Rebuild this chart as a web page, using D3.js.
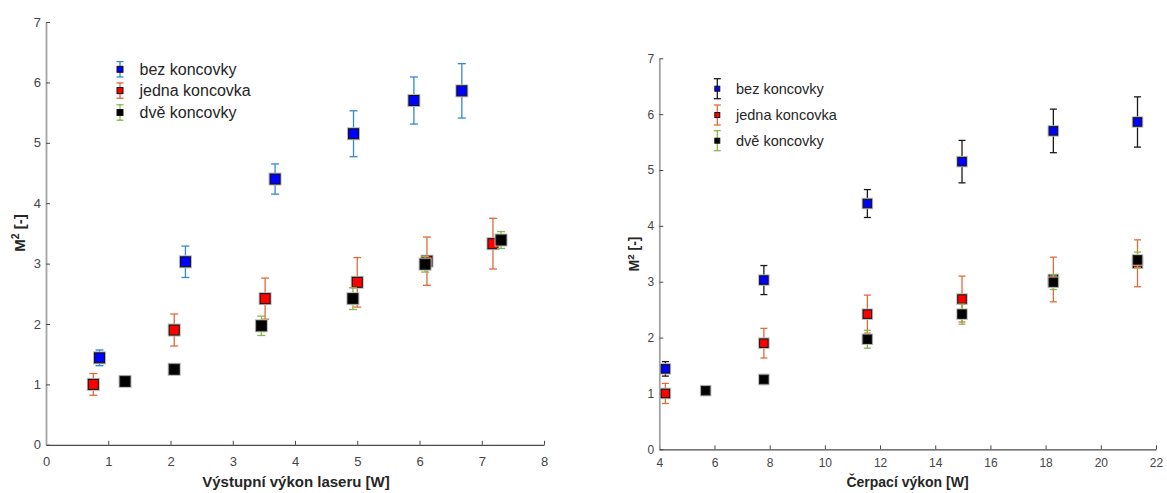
<!DOCTYPE html>
<html>
<head>
<meta charset="utf-8">
<script src="https://cdn.jsdelivr.net/npm/d3@7"></script>
<style>
  html, body { margin: 0; padding: 0; background: #fff; }
  svg { display: block; font-family: "Liberation Sans", Arial, Helvetica, sans-serif; }
</style>
</head>
<body>
<svg id="chart" width="1167" height="493"></svg>
<script>
// Series names
const seriesNames = ["bez koncovky", "jedna koncovka", "dvě koncovky"];

// Beam quality M² (shared by both panels)
const m2Bez   = [1.44, 3.03, 4.40, 5.15, 5.70, 5.86];
const m2Jedna = [1.00, 1.90, 2.42, 2.69, 3.04, 3.33];
const m2Dve   = [1.05, 1.25, 1.97, 2.42, 2.99, 3.39];

// Uncertainty of M²
const errBez   = [0.13, 0.26, 0.25, 0.38, 0.39, 0.45];
const errJedna = [0.18, 0.265, 0.34, 0.41, 0.40, 0.42];
const errDve   = [0.05, 0.09, 0.16, 0.18, 0.13, 0.14];

// Laser output power [W]
const outBez   = [0.86, 2.24, 3.68, 4.94, 5.91, 6.68];
const outJedna = [0.76, 2.06, 3.52, 5.00, 6.12, 7.18];
const outDve   = [1.27, 2.06, 3.46, 4.93, 6.09, 7.31];

// Pump power [W]
const pumpBez   = [4.22, 7.79, 11.54, 14.97, 18.28, 21.33];
const pumpJedna = [4.22, 7.79, 11.54, 14.97, 18.28, 21.33];
const pumpDve   = [5.68, 7.79, 11.54, 14.97, 18.28, 21.33];

// Axis ticks
const yTicks = [0, 1, 2, 3, 4, 5, 6, 7];
const xTicksOut = [0, 1, 2, 3, 4, 5, 6, 7, 8];
const xTicksPump = [4, 6, 8, 10, 12, 14, 16, 18, 20, 22];

const markerFill = ["#0000ff", "#ff0000", "#000000"];

const svg = d3.select("#chart");

function zipSeries(xs, ys, es) {
  return xs.map((x, i) => ({ x, y: ys[i], e: es[i] }));
}

function panel(cfg) {
  const g = svg.append("g");
  const x = d3.scaleLinear().domain(cfg.xDomain).range(cfg.xRange);
  const y = d3.scaleLinear().domain([0, 7]).range(cfg.yRange);

  // x axis
  const xAxis = g.append("g")
    .attr("transform", `translate(0,${cfg.yRange[0]})`)
    .call(d3.axisBottom(x).tickValues(cfg.xTicks).tickFormat(d3.format("d"))
      .tickSizeInner(-4).tickSizeOuter(0).tickPadding(cfg.xPad));
  xAxis.select(".domain").attr("stroke", "#4a4a4a").attr("stroke-width", 1.2);
  xAxis.selectAll(".tick line").attr("stroke", "#4a4a4a");
  xAxis.selectAll("text").attr("fill", "#454545").attr("font-size", cfg.tickFont)
    .attr("font-family", "Liberation Sans, Arial, sans-serif");

  // y axis
  const yAxis = g.append("g")
    .attr("transform", `translate(${cfg.xRange[0]},0)`)
    .call(d3.axisLeft(y).tickValues(yTicks).tickFormat(d3.format("d"))
      .tickSizeInner(-4).tickSizeOuter(0).tickPadding(5));
  yAxis.select(".domain").attr("stroke", "#a3a3a3").attr("stroke-width", 1.8);
  yAxis.selectAll(".tick line").attr("stroke", "#4a4a4a");
  yAxis.selectAll("text").attr("fill", "#454545").attr("font-size", cfg.tickFont)
    .attr("font-family", "Liberation Sans, Arial, sans-serif");

  // axis titles
  g.append("text")
    .attr("x", cfg.xLabelPos[0]).attr("y", cfg.xLabelPos[1])
    .attr("text-anchor", "middle").attr("dy", "0.35em")
    .attr("font-weight", "bold").attr("font-size", cfg.labelFont)
    .attr("fill", "#262626").text(cfg.xLabel);

  const yl = g.append("text")
    .attr("transform", `translate(${cfg.yLabelPos[0]},${cfg.yLabelPos[1]}) rotate(-90)`)
    .attr("text-anchor", "middle").attr("dy", "0.35em")
    .attr("font-weight", "bold").attr("font-size", cfg.labelFont)
    .attr("fill", "#262626");
  yl.append("tspan").text("M");
  yl.append("tspan").attr("baseline-shift", "super").attr("font-size", cfg.labelFont * 0.7).text("2");
  yl.append("tspan").text(" [-]");

  // data series: error bars, then marker
  const ms = cfg.markerSize;
  const cap = cfg.capWidth / 2;
  cfg.series.forEach((s, si) => {
    const sg = g.append("g");
    const pts = s.data;
    const eb = sg.selectAll("g.eb").data(pts).join("g").attr("class", "eb")
      .attr("stroke", cfg.errColors[si]).attr("stroke-width", 1.3);
    eb.append("line")
      .attr("x1", d => x(d.x)).attr("x2", d => x(d.x))
      .attr("y1", d => y(d.y + d.e)).attr("y2", d => y(d.y - d.e));
    eb.append("line")
      .attr("x1", d => x(d.x) - cap).attr("x2", d => x(d.x) + cap)
      .attr("y1", d => y(d.y + d.e)).attr("y2", d => y(d.y + d.e));
    eb.append("line")
      .attr("x1", d => x(d.x) - cap).attr("x2", d => x(d.x) + cap)
      .attr("y1", d => y(d.y - d.e)).attr("y2", d => y(d.y - d.e));
    // soft halo around each square
    sg.selectAll("rect.halo").data(pts).join("rect").attr("class", "halo")
      .attr("x", d => x(d.x) - ms / 2).attr("y", d => y(d.y) - ms / 2)
      .attr("width", ms).attr("height", ms)
      .attr("fill", "none").attr("stroke", "#b8b8b8").attr("stroke-width", 3);
    sg.selectAll("rect.mk").data(pts).join("rect").attr("class", "mk")
      .attr("x", d => x(d.x) - ms / 2).attr("y", d => y(d.y) - ms / 2)
      .attr("width", ms).attr("height", ms)
      .attr("fill", markerFill[si]).attr("stroke", "#111").attr("stroke-width", 1);
  });

  // legend
  const lg = g.append("g");
  seriesNames.forEach((name, i) => {
    const cy = cfg.legendY[i];
    const lx = cfg.legendX;
    const h = cfg.legendErr;
    const c = cfg.legendCap / 2;
    const e = lg.append("g").attr("stroke", cfg.errColors[i]).attr("stroke-width", 1.3);
    e.append("line").attr("x1", lx).attr("x2", lx).attr("y1", cy - h).attr("y2", cy + h);
    e.append("line").attr("x1", lx - c).attr("x2", lx + c).attr("y1", cy - h).attr("y2", cy - h);
    e.append("line").attr("x1", lx - c).attr("x2", lx + c).attr("y1", cy + h).attr("y2", cy + h);
    const lm = cfg.legendMarker;
    lg.append("rect").attr("x", lx - lm / 2).attr("y", cy - lm / 2)
      .attr("width", lm).attr("height", lm)
      .attr("fill", markerFill[i]).attr("stroke", "#111").attr("stroke-width", 1);
    lg.append("text").attr("x", cfg.legendTextX).attr("y", cy).attr("dy", "0.35em")
      .attr("font-size", cfg.legendFont).attr("fill", "#262626").text(name);
  });
}

// Left panel: M² vs laser output power
panel({
  xDomain: [0, 8], xRange: [46, 544], yRange: [444.8, 22],
  xTicks: xTicksOut, xPad: 12, tickFont: 13, labelFont: 15,
  xLabel: "Výstupní výkon laseru [W]", xLabelPos: [296, 481.5], yLabelPos: [20, 233],
  markerSize: 10, capWidth: 8,
  errColors: ["#3489d3", "#e06b3a", "#86b94a"],
  series: [
    { data: zipSeries(outBez, m2Bez, errBez) },
    { data: zipSeries(outJedna, m2Jedna, errJedna) },
    { data: zipSeries(outDve, m2Dve, errDve) }
  ],
  legendX: 120, legendY: [69.3, 90.6, 112.5], legendErr: 7.7, legendCap: 7,
  legendMarker: 6, legendTextX: 139.5, legendFont: 16
});

// Right panel: M² vs pump power
panel({
  xDomain: [4, 22], xRange: [659.3, 1156], yRange: [449.3, 58.3],
  xTicks: xTicksPump, xPad: 9, tickFont: 12, labelFont: 14,
  xLabel: "Čerpací výkon [W]", xLabelPos: [907.5, 482.5], yLabelPos: [634, 254],
  markerSize: 8.5, capWidth: 7,
  errColors: ["#1a1a1a", "#e06b3a", "#86b94a"],
  series: [
    { data: zipSeries(pumpBez, m2Bez, errBez) },
    { data: zipSeries(pumpJedna, m2Jedna, errJedna) },
    { data: zipSeries(pumpDve, m2Dve, errDve) }
  ],
  legendX: 717.3, legendY: [88.7, 115, 140.7], legendErr: 10, legendCap: 7,
  legendMarker: 5, legendTextX: 736, legendFont: 14.5
});
</script>
</body>
</html>
